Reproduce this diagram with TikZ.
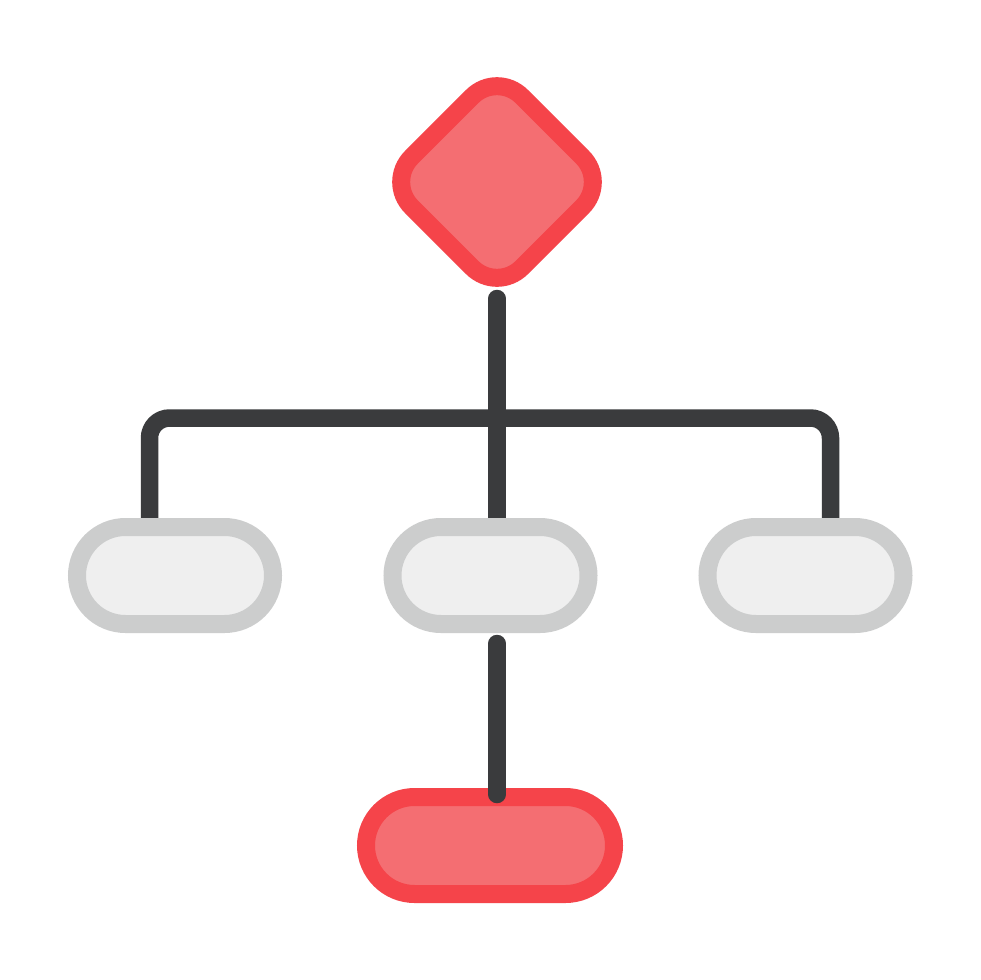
\documentclass[tikz,border=0pt]{standalone}
\usetikzlibrary{backgrounds}
\definecolor{redline}{HTML}{F5444A}
\definecolor{redfill}{HTML}{F46E72}
\definecolor{greyline}{HTML}{CCCDCD}
\definecolor{greyfill}{HTML}{EFEFEF}
\definecolor{darkline}{HTML}{3A3B3D}
\tikzset{
  pillbox/.style={rectangle, inner sep=0pt, minimum height=97pt, rounded corners=48.5pt, line width=18pt},
  greypill/.style={pillbox, draw=greyline, fill=greyfill, minimum width=196pt},
  redpill/.style={pillbox, draw=redline, fill=redfill, minimum width=248pt},
  diamondbox/.style={rectangle, inner sep=0pt, minimum width=156pt, minimum height=156pt, rotate=45, rounded corners=35pt, line width=18pt, draw=redline, fill=redfill},
  conn/.style={draw=darkline, line width=17.5pt, line cap=round},
}
\begin{document}
\begin{tikzpicture}[x=1pt,y=-1pt]
\useasboundingbox (0,0) rectangle (980,980);
\node[diamondbox] (top) at (497,182) {};
\node[greypill] (left) at (175,575.5) {};
\node[greypill] (mid) at (490.5,575.5) {};
\node[greypill] (right) at (805.5,575.5) {};
\node[redpill] (bottom) at (490,845.5) {};
\coordinate (d0) at (497,298.5);
\coordinate (m0) at (497,540);
\coordinate (lt) at (149.5,540);
\coordinate (lc) at (149.5,418);
\coordinate (rc) at (830.5,418);
\coordinate (rt) at (830.5,540);
\coordinate (m1) at (497,643.5);
\coordinate (b1) at (497,794.5);
\begin{scope}[on background layer]
\fill[white] (0,0) rectangle (980,980);
\draw[conn] (d0) -- (m0);
\draw[conn, line cap=butt, rounded corners=20pt] (lt) -- (lc) -- (rc) -- (rt);
\end{scope}
\draw[conn] (m1) -- (b1);
\end{tikzpicture}
\end{document}
